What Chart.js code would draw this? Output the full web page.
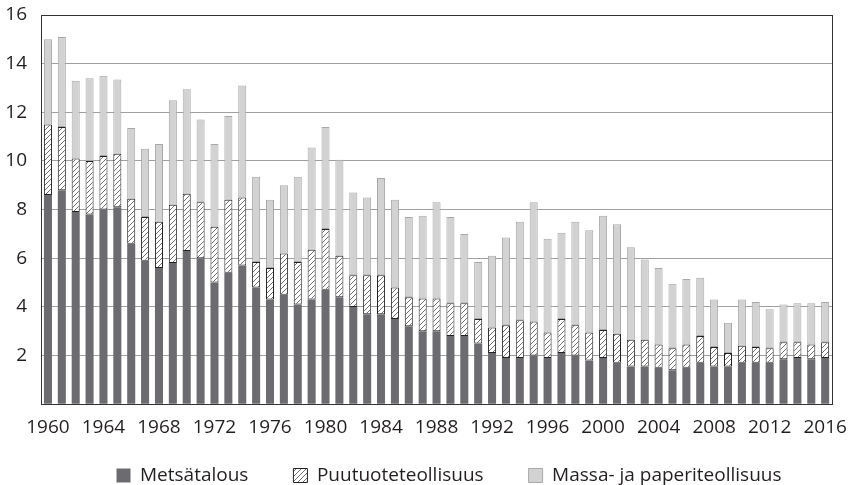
<!DOCTYPE html>
<html>
<head>
<meta charset="utf-8">
<script src="https://cdn.jsdelivr.net/npm/chart.js@4/dist/chart.umd.min.js"></script>
<style>
  html, body { margin: 0; padding: 0; background: #fff; }
  #wrap { width: 851px; height: 485px; }
</style>
</head>
<body>
<div id="wrap"><canvas id="chart" width="851" height="485"></canvas></div>
<script>
// vuodet 1960-2016
var vuodet = [];
for (var y = 1960; y <= 2016; y++) vuodet.push(String(y));

// Metsätalous
var metsatalous = [8.6, 8.8, 7.9, 7.8, 8.0, 8.1, 6.6, 5.9, 5.6, 5.8,
  6.3, 6.0, 5.0, 5.4, 5.7, 4.8, 4.3, 4.5, 4.1, 4.3,
  4.7, 4.4, 4.0, 3.7, 3.7, 3.5, 3.2, 3.0, 3.0, 2.8,
  2.8, 2.5, 2.1, 1.9, 1.9, 2.0, 1.9, 2.1, 2.0, 1.8,
  1.9, 1.7, 1.55, 1.55, 1.5, 1.4, 1.5, 1.7, 1.55, 1.55,
  1.7, 1.7, 1.7, 1.85, 1.9, 1.85, 1.9];

// Puutuoteteollisuus
var puutuote = [2.9, 2.6, 2.2, 2.2, 2.2, 2.2, 1.85, 1.8, 1.9, 2.4,
  2.35, 2.3, 2.3, 3.0, 2.8, 1.05, 1.3, 1.7, 1.75, 2.05,
  2.5, 1.7, 1.3, 1.6, 1.6, 1.3, 1.2, 1.35, 1.35, 1.35,
  1.35, 1.0, 1.05, 1.35, 1.55, 1.4, 1.05, 1.4, 1.25, 1.15,
  1.15, 1.2, 1.1, 1.1, 0.95, 0.9, 0.95, 1.1, 0.8, 0.55,
  0.7, 0.65, 0.6, 0.7, 0.65, 0.6, 0.65];

// Massa- ja paperiteollisuus
var massaPaperi = [3.5, 3.7, 3.2, 3.4, 3.3, 3.05, 2.9, 2.8, 3.2, 4.3,
  4.3, 3.4, 3.4, 3.45, 4.6, 3.5, 2.8, 2.8, 3.5, 4.2,
  4.2, 3.95, 3.4, 3.2, 4.0, 3.6, 3.3, 3.4, 3.95, 3.55,
  2.85, 2.35, 2.95, 3.6, 4.05, 4.9, 3.85, 3.55, 4.25, 4.2,
  4.7, 4.5, 3.8, 3.3, 3.15, 2.65, 2.7, 2.4, 1.95, 1.25,
  1.9, 1.85, 1.6, 1.55, 1.6, 1.7, 1.65];

var yTicks = [0, 2, 4, 6, 8, 10, 12, 14, 16];

// vinoviivoitus
function hatch() {
  var c = document.createElement('canvas');
  c.width = 5; c.height = 5;
  var g = c.getContext('2d');
  g.fillStyle = '#fff';
  g.fillRect(0, 0, 5, 5);
  g.strokeStyle = '#333';
  g.lineWidth = 0.7;
  g.beginPath();
  g.moveTo(-1, 6); g.lineTo(6, -1);
  g.moveTo(-1, 1); g.lineTo(1, -1);
  g.moveTo(4, 6); g.lineTo(6, 4);
  g.stroke();
  return g.createPattern(c, 'repeat');
}

// kehys kuvaajan ympärille
var kehys = {
  id: 'kehys',
  afterDraw: function (chart) {
    var a = chart.chartArea, ctx = chart.ctx;
    ctx.save();
    ctx.strokeStyle = '#333';
    ctx.lineWidth = 1;
    ctx.strokeRect(Math.round(a.left) + 0.5, Math.round(a.top) + 0.5,
      Math.round(a.right - a.left), Math.round(a.bottom - a.top));
    ctx.restore();
  }
};

// selitteen siirto (leveä väli kohteiden välissä, mutta matala laatikko)
var seliteSiirto = {
  id: 'seliteSiirto',
  afterLayout: function (chart) {
    var lg = chart.legend;
    if (!lg) return;
    lg.left += 30; lg.right += 30;
    lg.top -= 22;
  }
};

var fontti = "'Open Sans', sans-serif";

var chart = new Chart(document.getElementById('chart').getContext('2d'), {
  type: 'bar',
  data: {
    labels: vuodet,
    datasets: [{
      label: 'Metsätalous',
      data: metsatalous,
      backgroundColor: '#6c6c70',
      borderColor: '#6c6c70',
      borderWidth: 0
    }, {
      label: 'Puutuoteteollisuus',
      data: puutuote,
      backgroundColor: hatch(),
      borderColor: '#222',
      borderWidth: 1
    }, {
      label: 'Massa- ja paperiteollisuus',
      data: massaPaperi,
      backgroundColor: '#d2d2d2',
      borderColor: '#a8a8a8',
      borderWidth: 1
    }]
  },
  options: {
    responsive: false,
    animation: false,
    devicePixelRatio: 1,
    layout: { padding: { top: 15, right: 13, left: 0, bottom: 0 } },
    datasets: { bar: { categoryPercentage: 1, barPercentage: 0.58, borderSkipped: false } },
    plugins: {
      legend: {
        position: 'bottom',
        labels: {
          boxWidth: 14, boxHeight: 14, padding: 45,
          color: '#231f20',
          font: { family: fontti, size: 19 }
        }
      },
      tooltip: { enabled: false }
    },
    scales: {
      x: {
        stacked: true,
        grid: { display: false },
        border: { display: true, color: '#333' },
        ticks: {
          autoSkip: false, maxRotation: 0, padding: 4,
          color: '#231f20',
          font: { family: fontti, size: 19 },
          callback: function (v, i) {
            return (i % 4 === 0) ? vuodet[i] : '';
          }
        }
      },
      y: {
        stacked: true,
        min: 0, max: 16,
        afterFit: function (s) {
          s.width = 41;
          s.paddingTop = 0;
          s.paddingBottom = 0;
        },
        afterBuildTicks: function (s) { s.ticks = yTicks.map(function (v) { return { value: v }; }); },
        grid: { color: '#a0a0a0', drawTicks: false },
        border: { display: true, color: '#333' },
        ticks: {
          padding: 14,
          color: '#231f20',
          font: { family: fontti, size: 19 },
          callback: function (v) { return v === 0 ? '' : v; }
        }
      }
    }
  },
  plugins: [kehys, seliteSiirto]
});

// selitteen korkeus pienemmäksi kuin padding antaisi
var alkuFit = chart.legend.fit;
chart.legend.fit = function () {
  alkuFit.call(this);
  this.height = 42;
};
chart.update();
</script>
</body>
</html>
